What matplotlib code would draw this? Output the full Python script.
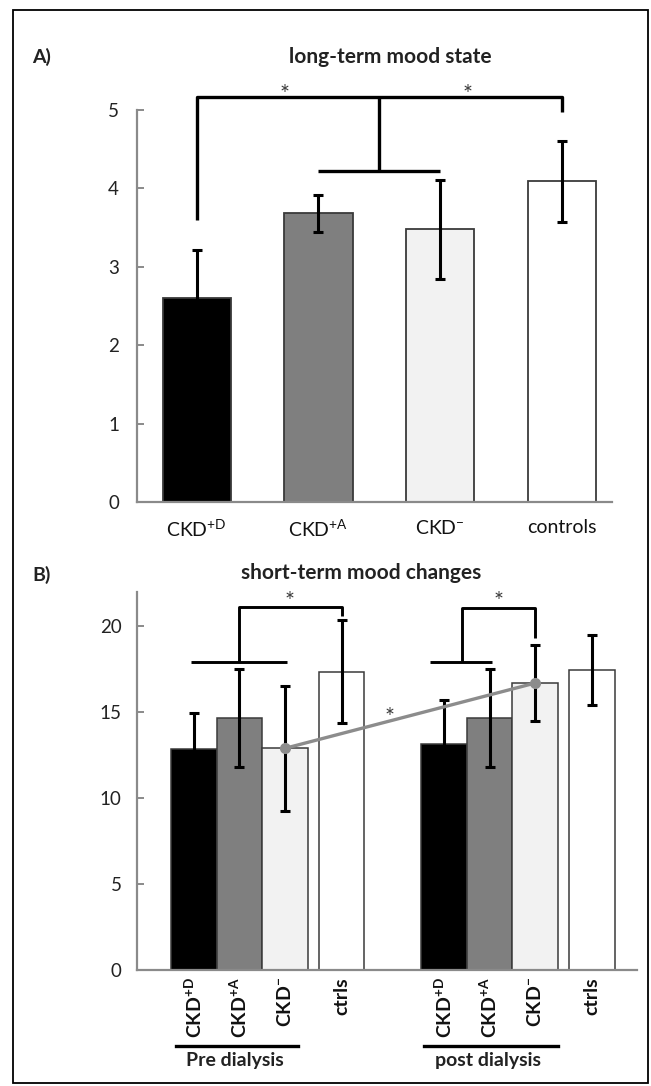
import matplotlib
matplotlib.use("Agg")
from matplotlib import pyplot as plt
from matplotlib.patches import Rectangle

plt.rcParams['font.family'] = ['Lato', 'DejaVu Sans']
plt.rcParams['mathtext.fontset'] = 'custom'
plt.rcParams['mathtext.rm'] = 'Lato'
plt.rcParams['mathtext.bf'] = 'Lato:bold'
plt.rcParams['mathtext.it'] = 'Lato:italic'

## Data
groups_a = ['CKD$^{\\mathrm{+D}}$', 'CKD$^{\\mathrm{+A}}$', 'CKD$^{\\mathrm{-}}$', 'controls']
mood_long = [2.6, 3.68, 3.48, 4.09]
mood_long_err = [0.61, 0.24, 0.63, 0.52]

groups_b = ['$\\mathbf{CKD^{+D}}$', '$\\mathbf{CKD^{+A}}$', '$\\mathbf{CKD^{-}}$', 'ctrls']
mood_pre = [12.85, 14.65, 12.9, 17.35]
mood_pre_err = [2.1, 2.85, 3.65, 3.0]
mood_post = [13.15, 14.65, 16.7, 17.45]
mood_post_err = [2.55, 2.85, 2.2, 2.05]
phase_labels = ['Pre dialysis', 'post dialysis']

colors = ['#000000', '#7f7f7f', '#f2f2f2', '#ffffff']
edge = '#3a3a3a'
axis_col = '#8a8a8a'
W, H = 651, 1086

fig = plt.figure(figsize=(W / 100, H / 100), dpi=100)

def px_rect(x0, y0, x1, y1):
    return [x0 / W, 1 - y1 / H, (x1 - x0) / W, (y1 - y0) / H]

def style_axes(ax, pad):
    for s in ['top', 'right']:
        ax.spines[s].set_visible(False)
    for s in ['left', 'bottom']:
        ax.spines[s].set_color(axis_col)
        ax.spines[s].set_linewidth(1.6)
    ax.tick_params(axis='y', direction='in', length=5, width=1.4, color=axis_col,
                   labelsize=13.5, pad=pad, labelcolor='#222222')
    ax.tick_params(axis='x', length=0, labelcolor='#111111')

def star(ax, x, y):
    ax.text(x, y, '*', ha='center', va='baseline', fontsize=17, color='#3a3a3a')

err_kw = dict(fmt='none', ecolor='black', elinewidth=2.2, capsize=3.8, capthick=2.2, zorder=4)

## Panel A
ax1 = fig.add_axes(px_rect(137, 110, 612, 502))
xa = list(range(len(groups_a)))
ax1.bar(xa, mood_long, width=0.56, color=colors, edgecolor=edge, linewidth=1.3, zorder=2)
ax1.errorbar(xa, mood_long, yerr=mood_long_err, **err_kw)
ax1.set_xlim(-0.49, 3.41)
ax1.set_ylim(0, 5)
ax1.set_yticks([0, 1, 2, 3, 4, 5])
ax1.set_xticks(xa, groups_a, fontsize=14)
style_axes(ax1, 13)
ax1.tick_params(axis='x', pad=12)

bk = dict(color='black', lw=2.4, clip_on=False, solid_capstyle='butt', zorder=5)
ax1.plot([0, 0, 3, 3], [3.60, 5.17, 5.17, 4.97], **bk)
ax1.plot([1.5, 1.5], [5.17, 4.22], **bk)
ax1.plot([1, 2], [4.22, 4.22], **bk)
for xs in [0.72, 2.22]:
    star(ax1, xs, 5.12)

## Panel B
ax2 = fig.add_axes(px_rect(137, 592, 637, 970))
pos_pre = [0, 1, 2, 3.25]
pos_post = [p + 5.5 for p in pos_pre]
ax2.bar(pos_pre, mood_pre, width=1.0, color=colors, edgecolor=edge, linewidth=1.1, zorder=2)
ax2.bar(pos_post, mood_post, width=1.0, color=colors, edgecolor=edge, linewidth=1.1, zorder=2)
ax2.errorbar(pos_pre, mood_pre, yerr=mood_pre_err, **err_kw)
ax2.errorbar(pos_post, mood_post, yerr=mood_post_err, **err_kw)
ax2.set_xlim(-1.25, 9.74)
ax2.set_ylim(0, 22)
ax2.set_yticks([0, 5, 10, 15, 20])
ax2.set_xticks(pos_pre + pos_post, groups_b * 2, rotation=90, fontsize=14, fontweight='bold')
style_axes(ax2, 11)
ax2.tick_params(axis='x', pad=5)

# pre vs post CKD- line
ax2.plot([pos_pre[2], pos_post[2]], [mood_pre[2], mood_post[2]], color='#8c8c8c', lw=2.4,
         marker='o', markersize=7, zorder=6)
star(ax2, 4.31, 14.3)

bk2 = dict(color='black', lw=2.1, clip_on=False, solid_capstyle='butt', zorder=5)
ax2.plot([1, 1, 3.25, 3.25], [17.9, 21.1, 21.1, 20.58], **bk2)
ax2.plot([-0.07, 2.04], [17.9, 17.9], **bk2)
star(ax2, 2.1, 21.05)
ax2.plot([5.9, 5.9, 7.5, 7.5], [17.9, 21.05, 21.05, 19.3], **bk2)
ax2.plot([5.2, 6.55], [17.9, 17.9], **bk2)
star(ax2, 6.7, 21.05)

# group underlines
for (x0, x1), xc, lab in zip([(-0.4, 2.29), (5.05, 8.0)], [0.9, 6.46], phase_labels):
    ax2.plot([x0, x1], [-4.42, -4.42], color='black', lw=2.4, clip_on=False)
    ax2.text(xc, -4.75, lab, ha='center', va='top', fontsize=14, fontweight='bold', color='#222222')

## Titles, panel letters, frame
fig.text(32 / W, 1 - 57 / H, 'A)', fontsize=14, fontweight='bold', va='center', color='#222222')
fig.text(32 / W, 1 - 575 / H, 'B)', fontsize=14, fontweight='bold', va='center', color='#222222')
fig.text(390 / W, 1 - 57 / H, 'long-term mood state', fontsize=15, fontweight='bold',
         ha='center', va='center', color='#222222')
fig.text(361 / W, 1 - 573 / H, 'short-term mood changes', fontsize=15, fontweight='bold',
         ha='center', va='center', color='#222222')
fig.patches.append(Rectangle((13 / W, 1 - 1083 / H), 635 / W, 1073 / H, transform=fig.transFigure,
                             fill=False, edgecolor='black', linewidth=1.3))

plt.savefig('out.png', dpi=100)
